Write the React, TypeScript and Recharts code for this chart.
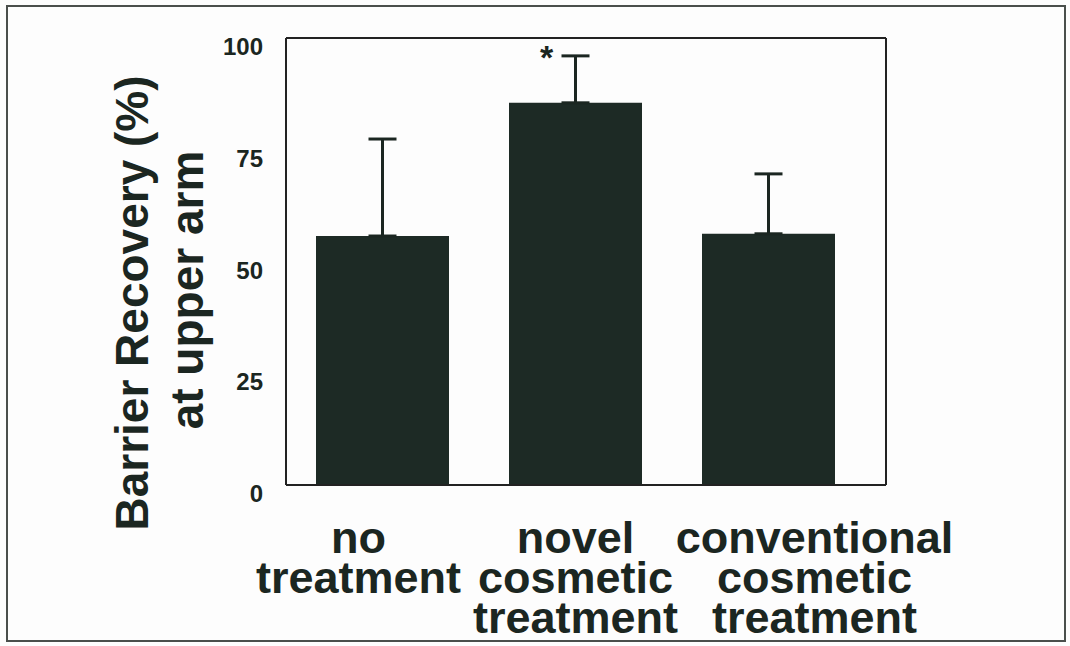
import React from 'react';
import {
  BarChart,
  Bar,
  XAxis,
  YAxis,
  ErrorBar,
  LabelList,
  CartesianGrid,
} from 'recharts';

// values
const categories = ['no\ntreatment', 'novel\ncosmetic\ntreatment', 'conventional\ncosmetic\ntreatment'];
const recovery = [55.7, 85.5, 56.2];
const errorUp = [21.7, 10.5, 13.4];
const significance = ['', '*', ''];
const yTicks = [0, 25, 50, 75, 100];

const INK = '#1b2621';
const FONT = '"Liberation Sans", Arial, Helvetica, sans-serif';
// the original labels are not centred under their bars
const LABEL_NUDGE = [-24, 0, 46];

const data = categories.map((name, i) => ({
  name,
  value: recovery[i],
  err: [0, errorUp[i]],
  mark: significance[i],
}));

const XTick = (props: any) => {
  const { x, y, payload, index } = props;
  const lines: string[] = String(payload.value).split('\n');
  const cx = x + (LABEL_NUDGE[index] ?? 0);
  return (
    <text x={cx} y={y} textAnchor="middle" fill={INK} fontFamily={FONT} fontWeight="bold" fontSize={45}>
      {lines.map((line, i) => (
        <tspan key={i} x={cx} y={y + 68 + i * 40}>
          {line}
        </tspan>
      ))}
    </text>
  );
};

const YTick = (props: any) => {
  const { x, y, payload } = props;
  return (
    <text x={x} y={y + 17} textAnchor="end" fill={INK} fontFamily={FONT} fontWeight="bold" fontSize={24}>
      {payload.value}
    </text>
  );
};

// two-line rotated axis title
const YTitle = () => (
  <g fill={INK} fontFamily={FONT} fontWeight="bold" fontSize={46}>
    <text x={148} y={303} textAnchor="middle" transform="rotate(-90 148 303)">
      Barrier Recovery (%)
    </text>
    <text x={203} y={290} textAnchor="middle" transform="rotate(-90 203 290)">
      at upper arm
    </text>
  </g>
);

const Star = (props: any) => {
  const { x, y, width, value } = props;
  if (!value) return null;
  return (
    <text x={x + width / 2 - 29} y={y - 34} textAnchor="middle" fill={INK} fontFamily={FONT} fontWeight="bold" fontSize={34}>
      {value}
    </text>
  );
};

const frame = { stroke: '#222', strokeWidth: 2 };

export default function App() {
  return (
    <div style={{ position: 'absolute', left: 0, top: 0, width: 1070, height: 646, background: '#fdfdfd' }}>
      <div
        style={{
          position: 'absolute',
          left: 6,
          top: 5,
          width: 1056,
          height: 633,
          border: '2px solid #4a4f4c',
          pointerEvents: 'none',
        }}
      />
      <BarChart
        width={1070}
        height={646}
        data={data}
        margin={{ top: 38, right: 184, bottom: 0, left: 0 }}
        barCategoryGap={0}
      >
        {/* top and right edges of the plot box */}
        <CartesianGrid
          stroke="#222"
          strokeWidth={2}
          horizontalCoordinatesGenerator={({ offset }: any) => [offset.top]}
          verticalCoordinatesGenerator={({ offset }: any) => [offset.left + offset.width]}
        />
        <XAxis
          dataKey="name"
          height={161}
          tickLine={false}
          tickSize={0}
          tickMargin={0}
          axisLine={frame}
          padding={{ left: 0, right: 21 }}
          tick={<XTick />}
          interval={0}
        />
        <YAxis
          type="number"
          domain={[0, 100]}
          ticks={yTicks}
          width={286}
          tickLine={false}
          tickSize={0}
          tickMargin={23}
          axisLine={frame}
          tick={<YTick />}
          label={{ content: () => <YTitle /> }}
        />
        <Bar dataKey="value" fill="#1d2a25" barSize={133} isAnimationActive={false}>
          <ErrorBar dataKey="err" width={14} strokeWidth={3} stroke={INK} direction="y" />
          <LabelList dataKey="mark" content={<Star />} />
        </Bar>
      </BarChart>
    </div>
  );
}
